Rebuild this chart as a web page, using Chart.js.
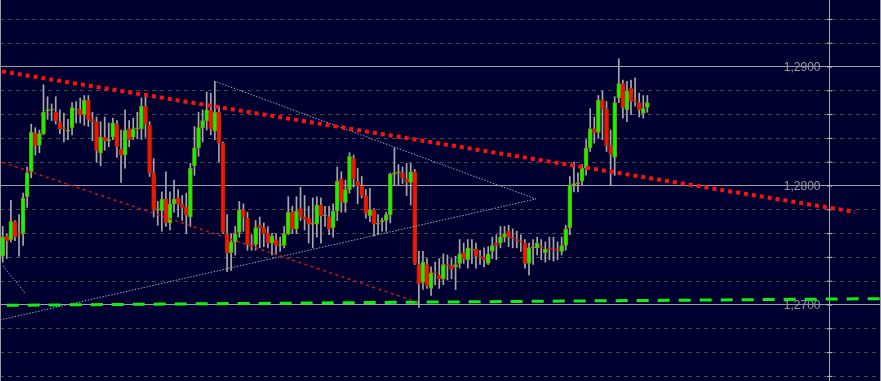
<!DOCTYPE html>
<html lang="en">
<head>
<meta charset="UTF-8">
<title>Candles</title>
<script src="https://cdn.jsdelivr.net/npm/chart.js"></script>
<style>
  body { margin: 0; background: #000030; }
  #wrap { position: relative; width: 881px; height: 381px; }
  #chart { display: block; }
  #frame { position: absolute; left: 0; top: 0; width: 879px; height: 381px;
           border-left: 1px solid #9a9a9a; border-right: 1px solid #9a9a9a; pointer-events: none; }
</style>
</head>
<body>
<div id="wrap">
  <canvas id="chart" width="881" height="381"></canvas>
  <div id="frame"></div>
</div>
<script>
// candle values, one entry per bar, oldest first
const opens = [
  1.2741,1.2758,1.2755,1.2770,1.2760,1.2760,1.2791,1.2812,1.2844,1.2834,
  1.2844,1.2863,1.2864,1.2862,1.2854,1.2849,1.2846,1.2849,1.2864,1.2864,
  1.2860,1.2872,1.2856,1.2854,1.2828,1.2841,1.2838,1.2841,1.2852,1.2831,
  1.2826,1.2848,1.2841,1.2848,1.2848,1.2867,1.2851,1.2811,1.2780,1.2779,
  1.2789,1.2769,1.2785,1.2790,1.2785,1.2782,1.2774,1.2817,1.2832,1.2849,
  1.2855,1.2864,1.2846,1.2862,1.2836,1.2760,1.2744,1.2753,1.2761,1.2780,
  1.2773,1.2751,1.2751,1.2767,1.2765,1.2760,1.2752,1.2755,1.2750,1.2750,
  1.2760,1.2778,1.2764,1.2781,1.2774,1.2773,1.2768,1.2768,1.2784,1.2775,
  1.2774,1.2765,1.2779,1.2806,1.2786,1.2797,1.2823,1.2804,1.2800,1.2792,
  1.2775,1.2780,1.2768,1.2770,1.2771,1.2776,1.2810,1.2811,1.2811,1.2806,
  1.2803,1.2812,1.2734,1.2719,1.2734,1.2714,1.2728,1.2725,1.2722,1.2734,
  1.2733,1.2732,1.2735,1.2744,1.2738,1.2746,1.2747,1.2741,1.2740,1.2735,
  1.2745,1.2752,1.2752,1.2757,1.2762,1.2757,1.2755,1.2754,1.2752,1.2735,
  1.2748,1.2748,1.2749,1.2744,1.2748,1.2747,1.2747,1.2745,1.2750,1.2765,
  1.2801,1.2802,1.2804,1.2815,1.2832,1.2848,1.2845,1.2872,1.2865,1.2834,
  1.2824,1.2874,1.2886,1.2864,1.2882,1.2872,1.2870,1.2861,1.2866
];
const highs = [
  1.2766,1.2760,1.2788,1.2771,1.2776,1.2794,1.2816,1.2852,1.2849,1.2847,
  1.2885,1.2875,1.2869,1.2875,1.2864,1.2861,1.2856,1.2870,1.2871,1.2874,
  1.2876,1.2876,1.2862,1.2858,1.2854,1.2858,1.2853,1.2857,1.2855,1.2847,
  1.2864,1.2855,1.2857,1.2862,1.2874,1.2878,1.2854,1.2823,1.2787,1.2795,
  1.2812,1.2795,1.2805,1.2797,1.2792,1.2794,1.2819,1.2850,1.2862,1.2864,
  1.2879,1.2878,1.2888,1.2867,1.2837,1.2776,1.2760,1.2766,1.2787,1.2785,
  1.2778,1.2759,1.2771,1.2774,1.2769,1.2766,1.2760,1.2760,1.2757,1.2766,
  1.2791,1.2783,1.2791,1.2799,1.2792,1.2783,1.2790,1.2791,1.2790,1.2783,
  1.2783,1.2785,1.2816,1.2812,1.2805,1.2828,1.2826,1.2815,1.2808,1.2797,
  1.2798,1.2781,1.2776,1.2773,1.2778,1.2811,1.2832,1.2818,1.2816,1.2819,
  1.2819,1.2814,1.2745,1.2745,1.2739,1.2732,1.2736,1.2739,1.2743,1.2742,
  1.2739,1.2741,1.2755,1.2752,1.2755,1.2755,1.2752,1.2746,1.2748,1.2749,
  1.2757,1.2759,1.2766,1.2766,1.2767,1.2764,1.2762,1.2759,1.2755,1.2752,
  1.2755,1.2757,1.2755,1.2753,1.2757,1.2757,1.2753,1.2757,1.2767,1.2808,
  1.2820,1.2811,1.2818,1.2839,1.2865,1.2858,1.2876,1.2880,1.2871,1.2847,
  1.2875,1.2907,1.2889,1.2888,1.2889,1.2891,1.2878,1.2876,1.2876
];
const lows = [
  1.2736,1.2739,1.2753,1.2754,1.2741,1.2750,1.2782,1.2807,1.2826,1.2828,
  1.2843,1.2856,1.2855,1.2852,1.2844,1.2837,1.2839,1.2843,1.2853,1.2853,
  1.2851,1.2850,1.2838,1.2820,1.2817,1.2830,1.2833,1.2839,1.2824,1.2803,
  1.2815,1.2833,1.2839,1.2840,1.2839,1.2841,1.2808,1.2774,1.2767,1.2762,
  1.2766,1.2763,1.2778,1.2774,1.2771,1.2760,1.2766,1.2809,1.2825,1.2837,
  1.2847,1.2843,1.2839,1.2820,1.2760,1.2728,1.2729,1.2742,1.2757,1.2762,
  1.2746,1.2746,1.2746,1.2748,1.2749,1.2748,1.2742,1.2743,1.2745,1.2748,
  1.2759,1.2760,1.2760,1.2771,1.2763,1.2752,1.2748,1.2757,1.2752,1.2766,
  1.2759,1.2757,1.2771,1.2778,1.2778,1.2794,1.2799,1.2785,1.2790,1.2773,
  1.2770,1.2758,1.2759,1.2762,1.2762,1.2769,1.2801,1.2801,1.2802,1.2792,
  1.2784,1.2734,1.2698,1.2713,1.2714,1.2708,1.2717,1.2714,1.2717,1.2721,
  1.2722,1.2713,1.2731,1.2735,1.2731,1.2735,1.2731,1.2734,1.2732,1.2734,
  1.2739,1.2738,1.2748,1.2753,1.2749,1.2748,1.2748,1.2745,1.2731,1.2725,
  1.2734,1.2742,1.2738,1.2736,1.2738,1.2737,1.2738,1.2742,1.2746,1.2759,
  1.2795,1.2795,1.2801,1.2809,1.2829,1.2836,1.2840,1.2839,1.2829,1.2801,
  1.2809,1.2870,1.2857,1.2854,1.2860,1.2867,1.2858,1.2857,1.2862
];
const closes = [
  1.2757,1.2754,1.2770,1.2757,1.2759,1.2790,1.2811,1.2845,1.2834,1.2844,
  1.2862,1.2864,1.2864,1.2855,1.2848,1.2848,1.2847,1.2866,1.2864,1.2860,
  1.2872,1.2856,1.2854,1.2830,1.2841,1.2838,1.2839,1.2853,1.2833,1.2826,
  1.2847,1.2839,1.2848,1.2848,1.2867,1.2852,1.2811,1.2780,1.2780,1.2789,
  1.2769,1.2785,1.2789,1.2785,1.2782,1.2776,1.2815,1.2832,1.2849,1.2855,
  1.2864,1.2848,1.2862,1.2836,1.2761,1.2744,1.2753,1.2760,1.2780,1.2774,
  1.2751,1.2750,1.2765,1.2765,1.2760,1.2752,1.2758,1.2750,1.2750,1.2760,
  1.2778,1.2764,1.2779,1.2774,1.2772,1.2768,1.2768,1.2784,1.2775,1.2775,
  1.2764,1.2779,1.2804,1.2787,1.2797,1.2825,1.2806,1.2800,1.2792,1.2777,
  1.2780,1.2768,1.2768,1.2771,1.2776,1.2810,1.2811,1.2811,1.2807,1.2803,
  1.2812,1.2735,1.2718,1.2736,1.2716,1.2727,1.2727,1.2722,1.2734,1.2733,
  1.2730,1.2734,1.2743,1.2739,1.2748,1.2746,1.2741,1.2740,1.2738,1.2743,
  1.2750,1.2750,1.2757,1.2760,1.2757,1.2756,1.2754,1.2753,1.2735,1.2748,
  1.2748,1.2752,1.2748,1.2747,1.2747,1.2746,1.2746,1.2750,1.2764,1.2801,
  1.2802,1.2802,1.2815,1.2832,1.2848,1.2845,1.2872,1.2865,1.2834,1.2827,
  1.2870,1.2886,1.2866,1.2880,1.2871,1.2871,1.2864,1.2865,1.2870
];

// price levels
const priceLabels = [1.27, 1.28, 1.29];
const minorLevels = [1.264,1.266,1.268,1.270,1.272,1.274,1.276,1.278,1.280,1.282,1.284,1.286,1.288,1.290,1.292,1.294];

// drawn objects, [bar index, price]
const resistance = [[-0.66, 1.28966], [208.9, 1.27782]];
const lowerChannel = [[0, 1.28199], [101.5, 1.27025]];
const support = [[-0.66, 1.26997], [215.27, 1.27053]];
const triangle = [[-0.66, 1.26874], [130.7, 1.27891], [52.16, 1.28878]];
const shortTrend = [[0.07, 1.27328], [5.47, 1.27101]];
const shiftBar = 202.65;

const xMin = -0.66, xMax = 215.27;
const yMin = 1.263613, yMax = 1.295630;

const pts = arr => arr.map(p => ({x: p[0], y: p[1]}));

function tone(i) {
    if (closes[i] > opens[i]) return 1;
    if (closes[i] < opens[i]) return -1;
    return 0;
}

const labelPlugin = {
    id: 'priceLabels',
    beforeDatasetsDraw(chart) {
        const ctx = chart.ctx;
        const x = chart.scales.x, y = chart.scales.y;
        ctx.save();
        ctx.font = '12px "Liberation Sans Narrow", "Liberation Sans", Arial, sans-serif';
        ctx.fillStyle = '#9a9a9a';
        ctx.textAlign = 'right';
        ctx.textBaseline = 'middle';
        const right = x.getPixelForValue(shiftBar) - 9;
        priceLabels.forEach(v => {
            ctx.fillText(v.toFixed(4).replace('.', ','), right, y.getPixelForValue(v) + 0.5);
        });
        ctx.restore();
    }
};

const lineDefaults = { type: 'line', pointRadius: 0, fill: false, tension: 0, order: 0 };

new Chart(document.getElementById('chart'), {
    type: 'bar',
    data: {
        datasets: [
            Object.assign({}, lineDefaults, {
                data: pts(resistance), borderColor: '#ff1010', borderWidth: 4,
                borderDash: [4, 4], borderDashOffset: 6
            }),
            Object.assign({}, lineDefaults, {
                data: pts(lowerChannel), borderColor: '#d01010', borderWidth: 1.5,
                borderDash: [3, 3.5]
            }),
            Object.assign({}, lineDefaults, {
                data: pts(support), borderColor: '#10f010', borderWidth: 3,
                borderDash: [12, 9], borderDashOffset: 14.3
            }),
            Object.assign({}, lineDefaults, {
                data: pts(triangle), borderColor: '#a0a0bc', borderWidth: 1,
                borderDash: [1.5, 1.5]
            }),
            Object.assign({}, lineDefaults, {
                data: pts(shortTrend), borderColor: '#a0a0bc', borderWidth: 1,
                borderDash: [1.5, 1.5]
            }),
            {
                // candle bodies
                order: 1,
                grouped: false,
                barThickness: 4,
                minBarLength: 1,
                borderWidth: 1,
                borderSkipped: false,
                data: opens.map((o, i) => ({x: i, y: [o, closes[i]]})),
                backgroundColor: ctx => {
                    const t = tone(ctx.dataIndex);
                    return t > 0 ? '#00ff00' : t < 0 ? '#ff1000' : '#8c8c00';
                },
                borderColor: ctx => {
                    const t = tone(ctx.dataIndex);
                    return t < 0 ? '#b02800' : '#8c8c00';
                }
            },
            {
                // wicks
                order: 2,
                grouped: false,
                barThickness: 1,
                backgroundColor: '#a8a8a8',
                data: lows.map((l, i) => ({x: i, y: [l, highs[i]]}))
            },
            Object.assign({}, lineDefaults, {
                order: 3,
                data: [{x: shiftBar, y: yMin}, {x: shiftBar, y: yMax}],
                borderColor: '#a8a8a8', borderWidth: 1
            }),
            {
                type: 'line',
                order: 3,
                showLine: false,
                pointStyle: 'line',
                pointRadius: 2.5,
                pointBorderColor: '#c0c0c0',
                pointBorderWidth: 1,
                data: minorLevels.map(v => ({x: shiftBar, y: v}))
            }
        ]
    },
    options: {
        responsive: false,
        animation: false,
        devicePixelRatio: 1,
        events: [],
        layout: { padding: 0, autoPadding: false },
        plugins: { legend: { display: false }, tooltip: { enabled: false } },
        scales: {
            x: {
                type: 'linear', min: xMin, max: xMax, offset: false, display: false,
                grid: { display: false, offset: false }
            },
            y: {
                type: 'linear', position: 'right', min: yMin, max: yMax,
                ticks: { display: false, stepSize: 0.002, includeBounds: false },
                grid: { color: '#4a4a44', drawTicks: false, z: -1 },
                border: { display: false, dash: [4, 4] }
            },
            y2: {
                type: 'linear', position: 'right', min: yMin, max: yMax,
                ticks: { display: false, stepSize: 0.01, includeBounds: false },
                grid: { color: '#a0a0a0', drawTicks: false },
                border: { display: false }
            }
        }
    },
    plugins: [labelPlugin]
});
</script>
</body>
</html>
